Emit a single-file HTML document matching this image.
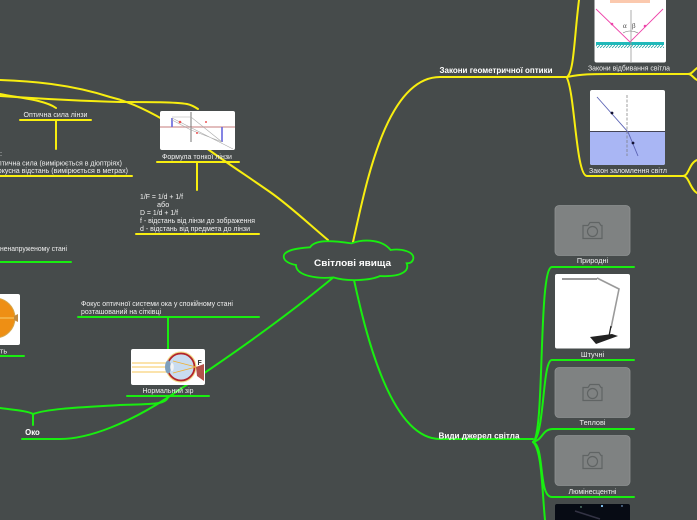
<!DOCTYPE html>
<html><head><meta charset="utf-8"><style>
html,body{margin:0;padding:0;background:#464b4b;width:697px;height:520px;overflow:hidden}
svg{display:block}
text{font-family:"Liberation Sans",sans-serif;font-size:7.3px;fill:#f0f0f0}
.b{font-weight:bold;fill:#fff;font-size:7.8px}
.y{stroke:#f8ee10;stroke-width:2;fill:none;stroke-linecap:round}
.g{stroke:#19ee10;stroke-width:2;fill:none;stroke-linecap:round}
</style></head><body>
<svg width="697" height="520" viewBox="0 0 697 520" xmlns="http://www.w3.org/2000/svg">
<defs>
<g id="cam"><rect width="75" height="50" rx="4" fill="#7f8282" stroke="#8f9292" stroke-width=".8"/>
<g fill="none" stroke="#606464" stroke-width="1.2"><path d="M29 33V20h5l2-3h9l2 3h1v13z" transform="translate(-1,0)"/><circle cx="37.5" cy="26" r="5"/></g></g>
<pattern id="hatch" width="3" height="3" patternUnits="userSpaceOnUse"><rect width="3" height="3" fill="#fff"/><path d="M0 3L3 0" stroke="#2fa7a7" stroke-width=".8"/></pattern>
</defs>

<!-- yellow -->
<path class="y" d="M353 242C365 190 385 77 440 77H567"/>
<path class="y" d="M567 77C574 72 574 40 579 0"/>
<path class="y" d="M567 77C583 74 590 74 610 74H688C692 74 693 71 697 68"/>
<path class="y" d="M688 74C692 74 693 78 697 80"/>
<path class="y" d="M567 78C575 95 576 176 587 176H683C689 176 689 163 697 160"/>
<path class="y" d="M683 176C689 176 690 189 697 193"/>
<path class="y" d="M328 240C310 225 290 206 270 192C250 178 230 165 209 150C170 122 140 104 110 97C70 84 30 81 0 80"/>
<path class="y" d="M0 96C30 98 80 101 120 102C150 102 175 102 187 104C192 105 195 107 198 109"/>
<path class="y" d="M0 94C20 98 45 100 56 108"/>
<path class="y" d="M20 120H91M56 120V149M0 176H132M157 162H239M197 162V190M136 234H259"/>

<!-- green -->
<path class="g" d="M354 280C365 330 390 439 440 439H533"/>
<path class="g" d="M533 442C545 435 538 267 552 267H634"/>
<path class="g" d="M533 442C545 435 542 360 552 360H634"/>
<path class="g" d="M533 442C543 440 542 429 553 429H634"/>
<path class="g" d="M533 442C545 446 538 497 552 497H634"/>
<path class="g" d="M533 442C542 450 542 490 545 520"/>
<path class="g" d="M0 262H71M78 317H259M168 317V349M127 396H209M0 356H24"/>
<path class="g" d="M168 397C166 405 150 404 120 405C90 407 50 408 33 414C28 411 15 410 0 408M33 414V425"/>
<path class="g" d="M22 439H60C90 439 130 422 167 398C200 376 270 330 335 276"/>

<!-- cloud -->
<g transform="translate(270 220) scale(.33333)">
<path d="M42 105C50 88 90 84 120 82C135 60 175 60 245 70C270 60 330 52 362 90C395 85 432 95 430 115C428 128 418 130 410 130C418 150 400 172 330 168C300 182 230 185 190 172C150 177 78 170 78 135C50 130 38 118 42 105Z" fill="#464b4b" stroke="#19ee10" stroke-width="5.4"/>
</g>
<text x="352.500" y="266" text-anchor="middle" class="b" style="font-size:9.4px" textLength="77" lengthAdjust="spacingAndGlyphs">Світлові явища</text>

<!-- lens image -->
<rect x="160" y="111" width="75" height="39" rx="2" fill="#fff"/>
<g fill="none" stroke-width=".6">
<path d="M160 127H235" stroke="#d9a7a7" stroke-width="1.4"/>
<path d="M191 112V142" stroke="#666" stroke-width=".9"/>
<path d="M172 118V127" stroke="#6666dd" stroke-width="1.6"/>
<path d="M222 127V142" stroke="#6666dd" stroke-width="1.6"/>
<path d="M172 118L233 149M172 117H191L222 142M172 120L191 130L222 142" stroke="#aaa"/>
</g>
<circle cx="180" cy="122" r="1.300" fill="#e55"/><circle cx="206" cy="122" r="1" fill="#e55"/><circle cx="197" cy="133" r="1" fill="#e55"/>

<!-- eye image -->
<rect x="131" y="349" width="74" height="36" rx="2" fill="#fff"/>
<circle cx="181" cy="367" r="15.500" fill="#f2dc8a"/>
<circle cx="181" cy="367" r="13.500" fill="#c9dcf0" stroke="#b3242a" stroke-width="1.800"/>
<path d="M132 363H170M132 367H172M132 372H170" stroke="#f7c75a" stroke-width=".9"/>
<ellipse cx="168" cy="367" rx="3" ry="6.500" fill="#7f9fbc"/>
<ellipse cx="172" cy="367" rx="1.800" ry="4" fill="#f4f4f4"/>
<path d="M173 361L196 367L173 373" fill="none" stroke="#f0b030" stroke-width=".8"/>
<path d="M196 367L204 364V381L197 376Z" fill="#b5504a"/>
<text x="197.500" y="365" style="font-weight:bold;font-size:7px;fill:#333">F</text>

<!-- left eye fragment -->
<rect x="-8" y="294" width="28" height="51" rx="2" fill="#fff"/>
<circle cx="-5" cy="318" r="20" fill="#ee8f14" stroke="#d5a84e"/>
<path d="M14 316l4-2v8l-4-2z" fill="#c08a40"/><path d="M0 318H14" stroke="#f7cf70"/>

<!-- reflection -->
<rect x="594.500" y="-6" width="71.500" height="68.500" rx="2" fill="#fff"/>
<rect x="610" y="0" width="40" height="3" fill="#fbc9ae"/>
<rect x="596" y="42" width="68" height="3" fill="#1fb9b9"/><rect x="596" y="45" width="68" height="3" fill="url(#hatch)"/>
<path d="M596 9L630 42L663 9" fill="none" stroke="#ee44aa" stroke-width=".9"/>
<path d="M631 10V62" stroke="#999" stroke-width=".8"/>
<circle cx="612" cy="24" r="1.300" fill="#e4a"/><circle cx="645" cy="26" r="1.300" fill="#e4a"/>
<path d="M623 33Q630 29 638 33" fill="none" stroke="#777" stroke-width=".6"/>
<text x="623" y="28" style="font:7px 'Liberation Serif',serif;fill:#444">α</text>
<text x="632" y="28" style="font:7px 'Liberation Serif',serif;fill:#444">β</text>

<!-- refraction -->
<rect x="590" y="90" width="75" height="75" rx="2" fill="#fff"/>
<path d="M590 132H665V163a2 2 0 0 1-2 2H592a2 2 0 0 1-2-2Z" fill="#a9b6f4"/>
<path d="M590 131.500H665" stroke="#445" stroke-width="1"/>
<path d="M627 95V156" stroke="#777" stroke-width=".7" stroke-dasharray="3 1.500"/>
<path d="M597 97L628 132L638 156" fill="none" stroke="#5c64b5" stroke-width=".9"/>
<circle cx="612" cy="113" r="1.400" fill="#113"/><circle cx="633" cy="143" r="1.400" fill="#113"/>

<!-- grey photo placeholders -->
<use href="#cam" x="555" y="205.500"/>
<use href="#cam" x="555" y="367.500"/>
<use href="#cam" x="555" y="435.500"/>

<!-- lamp -->
<rect x="555" y="274" width="75" height="74.500" rx="2" fill="#fff"/>
<path d="M597 278L619 289L611 328" fill="none" stroke="#9a9a9a" stroke-width="1.600"/>
<path d="M562 279L597 279" stroke="#333" stroke-width="1.100"/>
<path d="M611 326L609 336" stroke="#222" stroke-width="1.300"/>
<path d="M590 337L612 334L618 336L596 344Z" fill="#222"/>

<!-- night sky -->
<rect x="555" y="504" width="75" height="20" rx="2" fill="#070b14"/>
<circle cx="602" cy="506" r="1.100" fill="#8cf"/><circle cx="581" cy="507" r=".7" fill="#8ca"/><circle cx="622" cy="506" r=".7" fill="#9cf"/><path d="M575 511L600 519" stroke="#334" stroke-width="1.500"/>

<!-- labels -->
<g>
<text x="496" y="73" text-anchor="middle" class="b" textLength="113" lengthAdjust="spacingAndGlyphs">Закони геометричної оптики</text>
<text x="479" y="438.500" text-anchor="middle" class="b" textLength="81" lengthAdjust="spacingAndGlyphs">Види джерел світла</text>
<text x="32.500" y="435" text-anchor="middle" class="b">Око</text>
<text x="629" y="70.500" text-anchor="middle" textLength="82" lengthAdjust="spacingAndGlyphs">Закони відбивання світла</text>
<text x="628" y="173" text-anchor="middle" textLength="78" lengthAdjust="spacingAndGlyphs">Закон заломлення світл</text>
<text x="592.500" y="263" text-anchor="middle">Природні</text>
<text x="592.500" y="357" text-anchor="middle">Штучні</text>
<text x="592.500" y="425" text-anchor="middle">Теплові</text>
<text x="592.500" y="494" text-anchor="middle" textLength="48" lengthAdjust="spacingAndGlyphs">Люмінесцентні</text>
<text x="55.500" y="117" text-anchor="middle" textLength="64" lengthAdjust="spacingAndGlyphs">Оптична сила лінзи</text>
<text x="197" y="159" text-anchor="middle" textLength="70" lengthAdjust="spacingAndGlyphs">Формула тонкої лінзи</text>
<text x="168" y="393" text-anchor="middle" textLength="51" lengthAdjust="spacingAndGlyphs">Нормальний зір</text>
<text x="0" y="353.500">ть</text>
<text x="0" y="156">:</text>
<text x="-6" y="165.500" textLength="128" lengthAdjust="spacingAndGlyphs">оптична сила (вимірюється в діоптріях)</text>
<text x="-8" y="173" textLength="136" lengthAdjust="spacingAndGlyphs">фокусна відстань (вимірюється в метрах)</text>
<text x="0" y="251" textLength="67" lengthAdjust="spacingAndGlyphs">ненапруженому стані</text>
<text x="140" y="199" textLength="43" lengthAdjust="spacingAndGlyphs">1/F = 1/d + 1/f</text>
<text x="157" y="207">або</text>
<text x="140" y="215" textLength="38" lengthAdjust="spacingAndGlyphs">D = 1/d + 1/f</text>
<text x="140" y="223" textLength="115" lengthAdjust="spacingAndGlyphs">f - відстань від лінзи до зображення</text>
<text x="140" y="231" textLength="110" lengthAdjust="spacingAndGlyphs">d - відстань від предмета до лінзи</text>
<text x="81" y="306" textLength="152" lengthAdjust="spacingAndGlyphs">Фокус оптичної системи ока у спокійному стані</text>
<text x="81" y="314" textLength="80" lengthAdjust="spacingAndGlyphs">розташований на сітківці</text>
</g>
</svg>
</body></html>
